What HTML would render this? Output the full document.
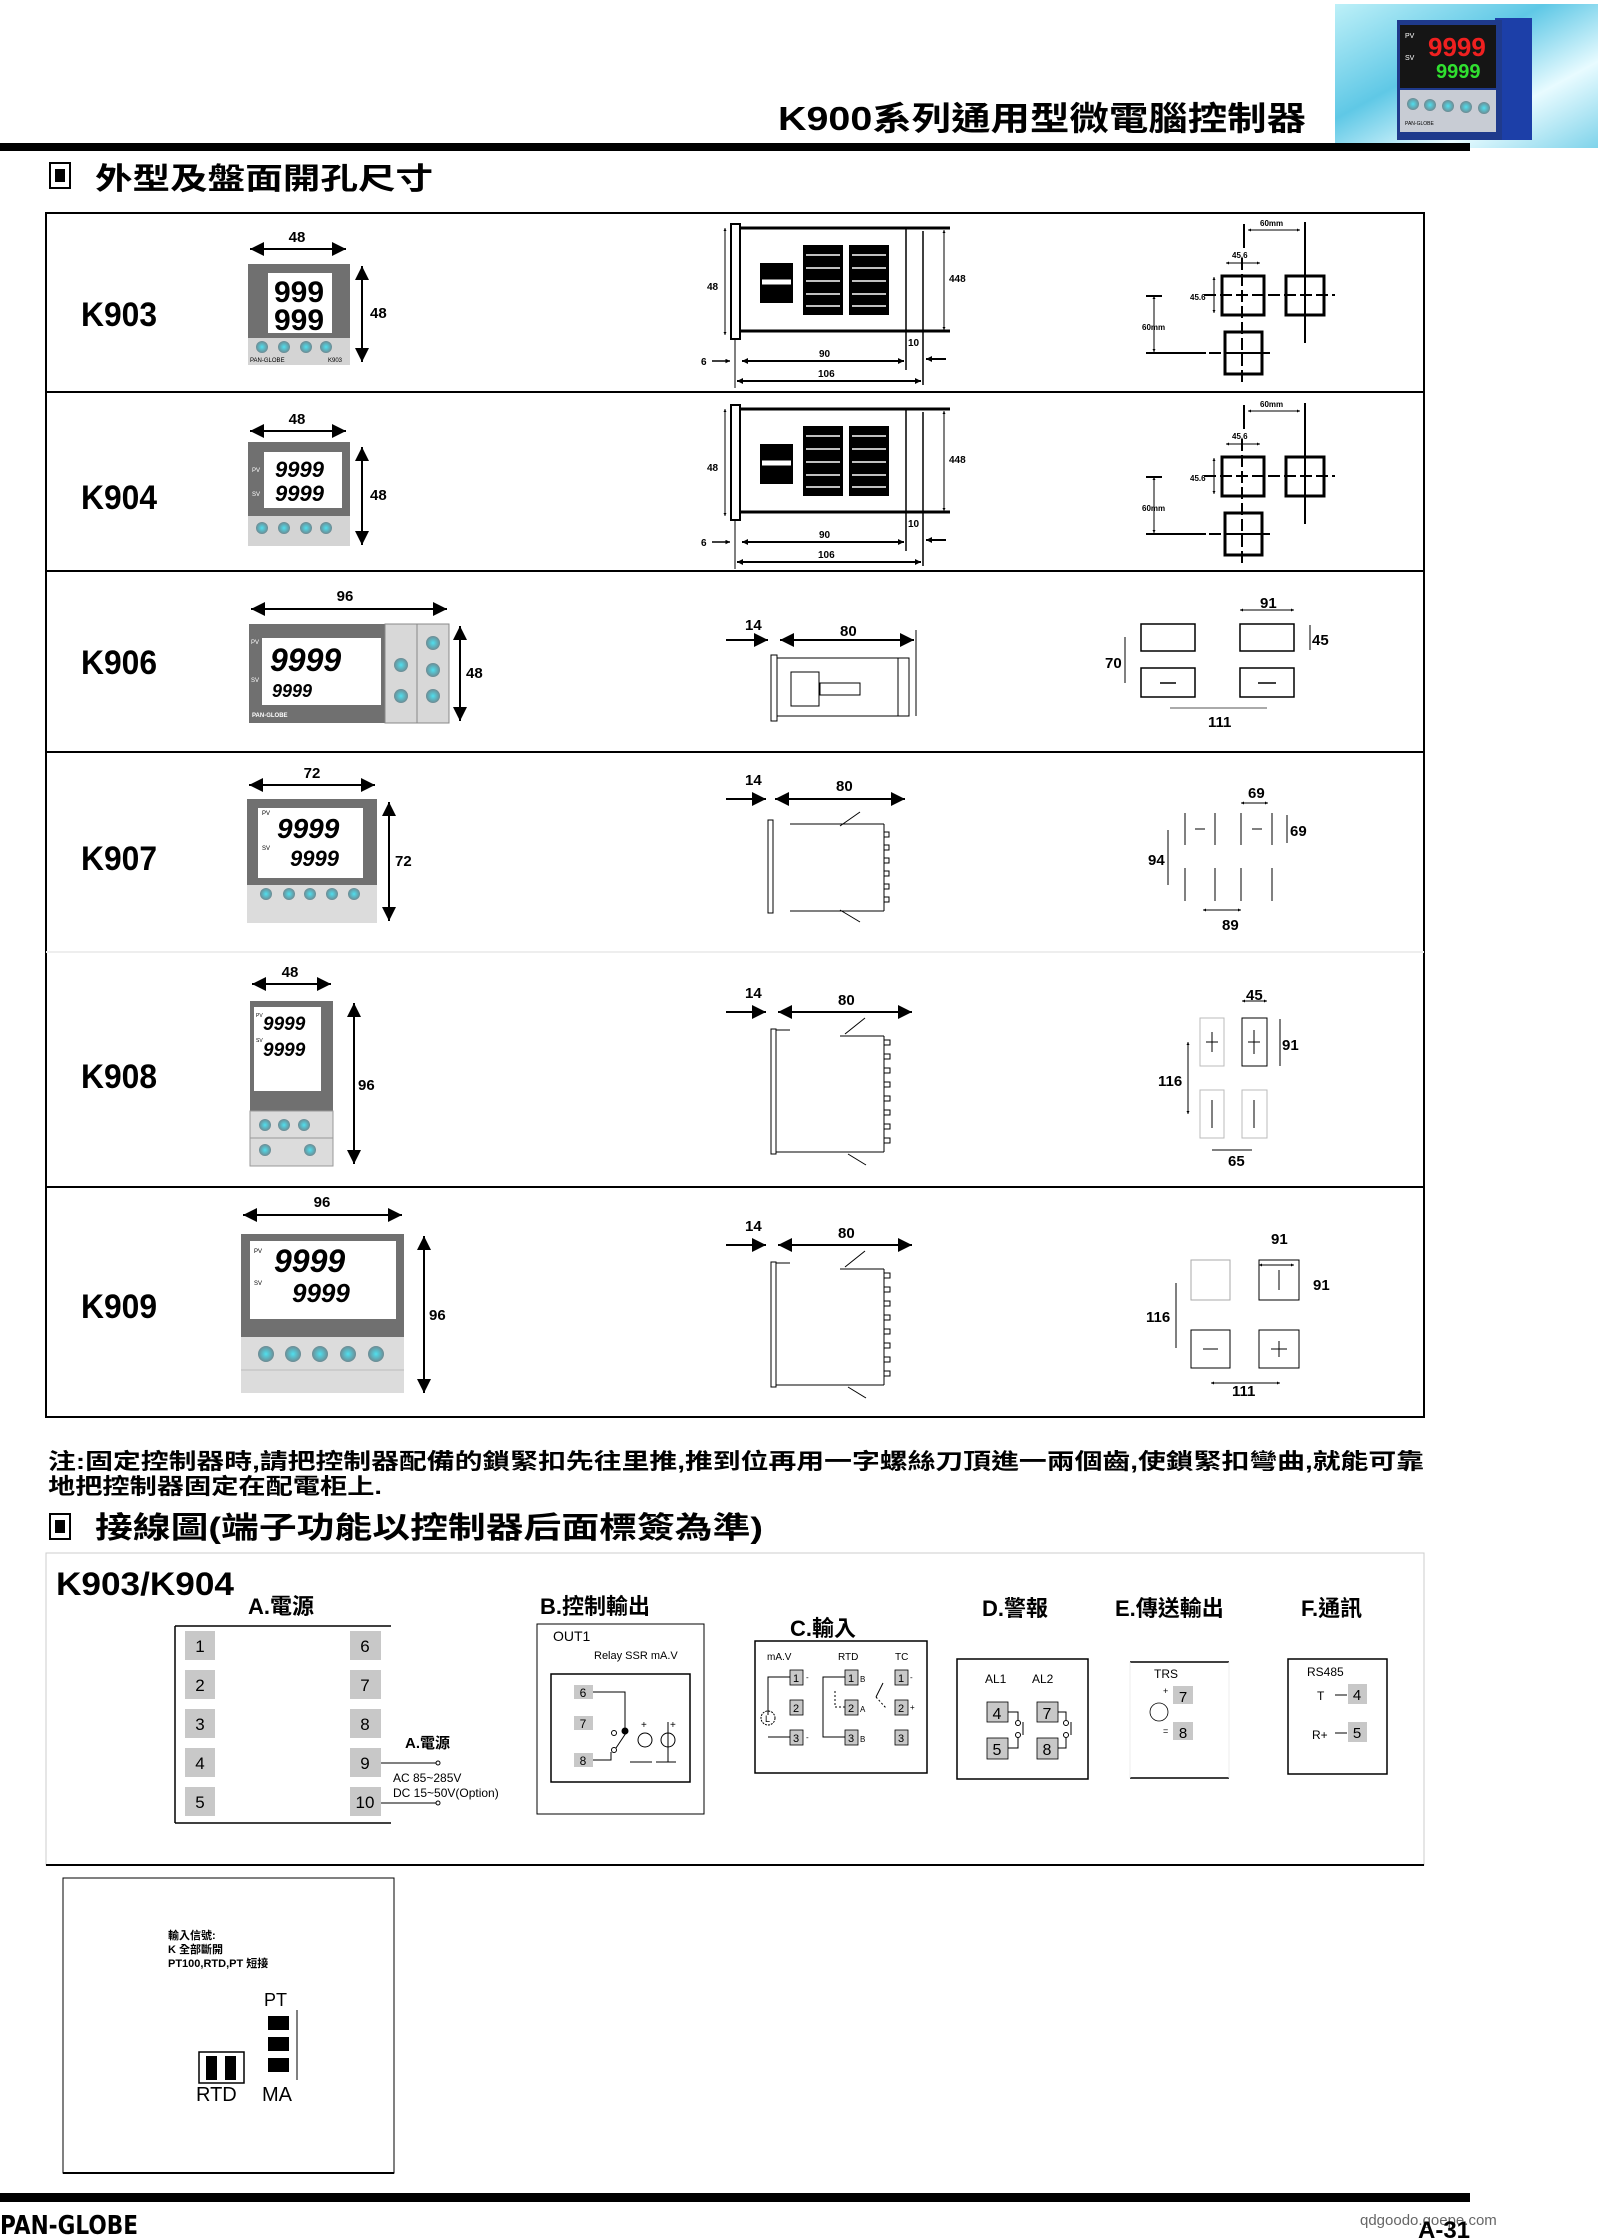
<!DOCTYPE html>
<html><head><meta charset="utf-8"><style>
html,body{margin:0;padding:0;background:#fff;}
svg{display:block;}
text{font-family:"Liberation Sans","Noto Sans CJK TC",sans-serif;}
.cj{font-family:"Liberation Sans","Noto Sans CJK TC",sans-serif;font-weight:bold;}
.d{font-family:"Liberation Sans Narrow","Liberation Sans",sans-serif;font-weight:bold;}
</style></head><body>
<svg width="1600" height="2238" viewBox="0 0 1600 2238" xmlns="http://www.w3.org/2000/svg">
<defs>
<marker id="ah" viewBox="0 0 10 10" refX="10" refY="5" markerWidth="7" markerHeight="7" orient="auto-start-reverse"><path d="M0,0L10,5L0,10z" fill="#000"/></marker>
<marker id="as" viewBox="0 0 10 10" refX="10" refY="5" markerWidth="3" markerHeight="3" orient="auto-start-reverse"><path d="M0,0L10,5L0,10z" fill="#000"/></marker>
<linearGradient id="bg1" x1="0" y1="0" x2="1" y2="1"><stop offset="0" stop-color="#bdf0f8"/><stop offset="0.4" stop-color="#5fc8e6"/><stop offset="0.7" stop-color="#e8fbff"/><stop offset="1" stop-color="#7fd3ea"/></linearGradient>
<radialGradient id="btn"><stop offset="0" stop-color="#4fe0ef"/><stop offset="1" stop-color="#6d8a92"/></radialGradient>
</defs>

<!-- header -->
<rect x="1335" y="4" width="263" height="144" fill="url(#bg1)"/>
<rect x="1495" y="18" width="37" height="122" fill="#1c3fa8"/>
<rect x="1397" y="20" width="105" height="120" fill="#1f3a8c"/>
<rect x="1400" y="25" width="96" height="63" fill="#151515"/>
<text x="1405" y="38" font-size="7" fill="#fff">PV</text>
<text x="1405" y="60" font-size="7" fill="#fff">SV</text>
<text x="1428" y="56" font-size="26" fill="#f02020" class="d">9999</text>
<text x="1436" y="78" font-size="20" fill="#30e030" class="d">9999</text>
<rect x="1400" y="90" width="96" height="42" fill="#c8ccd4"/>
<g fill="url(#btn)"><circle cx="1413" cy="104" r="6"/><circle cx="1430" cy="105" r="6"/><circle cx="1448" cy="106" r="6"/><circle cx="1466" cy="107" r="6"/><circle cx="1484" cy="108" r="6"/></g>
<text x="1405" y="125" font-size="5">PAN-GLOBE</text>
<text x="778" y="130" font-size="33" class="cj" textLength="528" lengthAdjust="spacingAndGlyphs">K900系列通用型微電腦控制器</text>
<rect x="0" y="143" width="1470" height="8" fill="#000"/>

<!-- section 1 -->
<rect x="50" y="163" width="20" height="25" fill="#fff" stroke="#000" stroke-width="2"/>
<rect x="55" y="169" width="10" height="13" fill="#000"/>
<text x="95" y="189" font-size="30" class="cj" textLength="338" lengthAdjust="spacingAndGlyphs">外型及盤面開孔尺寸</text>

<rect x="46" y="213" width="1378" height="1204" fill="none" stroke="#000" stroke-width="2"/>
<g stroke="#000" stroke-width="2"><line x1="46" y1="392" x2="1424" y2="392"/><line x1="46" y1="571" x2="1424" y2="571"/><line x1="46" y1="752" x2="1424" y2="752"/><line x1="46" y1="1187" x2="1424" y2="1187"/></g>
<line x1="46" y1="952" x2="1424" y2="952" stroke="#eee" stroke-width="2"/>

<g class="d" font-size="34">
<text x="81" y="326" textLength="76" lengthAdjust="spacingAndGlyphs">K903</text>
<text x="81" y="509" textLength="76" lengthAdjust="spacingAndGlyphs">K904</text>
<text x="81" y="674" textLength="76" lengthAdjust="spacingAndGlyphs">K906</text>
<text x="81" y="870" textLength="76" lengthAdjust="spacingAndGlyphs">K907</text>
<text x="81" y="1088" textLength="76" lengthAdjust="spacingAndGlyphs">K908</text>
<text x="81" y="1318" textLength="76" lengthAdjust="spacingAndGlyphs">K909</text>
</g>

<!-- K903 front -->
<rect x="248" y="264" width="102" height="74" fill="#707070"/>
<rect x="268" y="273" width="64" height="60" fill="#fff"/>
<text x="274" y="302" font-size="30" class="d">999</text>
<text x="274" y="330" font-size="30" class="d">999</text>
<rect x="248" y="338" width="102" height="27" fill="#d4d4d4"/>
<g fill="url(#btn)"><circle cx="262" cy="347" r="6"/><circle cx="284" cy="347" r="6"/><circle cx="306" cy="347" r="6"/><circle cx="326" cy="347" r="6"/></g>
<text x="250" y="362" font-size="6">PAN-GLOBE</text><text x="328" y="362" font-size="6">K903</text>
<line x1="250" y1="249" x2="346" y2="249" stroke="#000" stroke-width="2" marker-start="url(#ah)" marker-end="url(#ah)"/>
<text x="297" y="242" font-size="15" class="d" text-anchor="middle">48</text>
<line x1="362" y1="266" x2="362" y2="362" stroke="#000" stroke-width="2" marker-start="url(#ah)" marker-end="url(#ah)"/>
<text x="370" y="318" font-size="15" class="d">48</text>

<!-- K904 front -->
<rect x="248" y="442" width="102" height="74" fill="#707070"/>
<rect x="264" y="452" width="78" height="56" fill="#fff"/>
<text x="252" y="472" font-size="6" fill="#fff">PV</text><text x="252" y="496" font-size="6" fill="#fff">SV</text>
<text x="275" y="477" font-size="22" class="d" font-style="italic">9999</text>
<text x="275" y="501" font-size="22" class="d" font-style="italic">9999</text>
<rect x="248" y="516" width="102" height="30" fill="#d4d4d4"/>
<g fill="url(#btn)"><circle cx="262" cy="528" r="6"/><circle cx="284" cy="528" r="6"/><circle cx="306" cy="528" r="6"/><circle cx="326" cy="528" r="6"/></g>
<line x1="250" y1="431" x2="346" y2="431" stroke="#000" stroke-width="2" marker-start="url(#ah)" marker-end="url(#ah)"/>
<text x="297" y="424" font-size="15" class="d" text-anchor="middle">48</text>
<line x1="362" y1="447" x2="362" y2="545" stroke="#000" stroke-width="2" marker-start="url(#ah)" marker-end="url(#ah)"/>
<text x="370" y="500" font-size="15" class="d">48</text>

<!-- K903/K904 side view group -->
<g id="side1" stroke="#000" fill="none">
<rect x="731" y="224" width="9" height="115" fill="#fff" stroke-width="2"/>
<line x1="740" y1="228" x2="950" y2="228" stroke-width="3"/>
<line x1="740" y1="331" x2="950" y2="331" stroke-width="3"/>
<line x1="906" y1="228" x2="906" y2="370" stroke-width="1.5"/>
<line x1="923" y1="231" x2="923" y2="385" stroke-width="1.5"/>
<line x1="725" y1="228" x2="725" y2="335" stroke-width="1" marker-start="url(#as)" marker-end="url(#as)"/>
<line x1="944" y1="230" x2="944" y2="330" stroke-width="1" marker-start="url(#as)" marker-end="url(#as)"/>
<g fill="#000" stroke="none">
<rect x="760" y="263" width="33" height="40"/>
<rect x="803" y="245" width="40" height="70"/>
<rect x="849" y="245" width="40" height="70"/>
</g>
<g stroke="#fff" stroke-width="1.5">
<line x1="762" y1="282" x2="791" y2="282" stroke-width="5"/>
<line x1="806" y1="255" x2="840" y2="255"/><line x1="806" y1="268" x2="840" y2="268"/><line x1="806" y1="281" x2="840" y2="281"/><line x1="806" y1="294" x2="840" y2="294"/><line x1="806" y1="306" x2="840" y2="306"/>
<line x1="852" y1="255" x2="886" y2="255"/><line x1="852" y1="268" x2="886" y2="268"/><line x1="852" y1="281" x2="886" y2="281"/><line x1="852" y1="294" x2="886" y2="294"/><line x1="852" y1="306" x2="886" y2="306"/>
</g>
<line x1="735" y1="340" x2="735" y2="388" stroke-width="1"/>
<line x1="742" y1="361" x2="904" y2="361" stroke-width="2" marker-start="url(#as)" marker-end="url(#as)"/>
<line x1="737" y1="381" x2="921" y2="381" stroke-width="2" marker-start="url(#as)" marker-end="url(#as)"/>
<line x1="712" y1="361" x2="730" y2="361" stroke-width="1.5" marker-end="url(#as)"/>
<line x1="946" y1="359" x2="926" y2="359" stroke-width="2" marker-end="url(#as)"/>
<g stroke="none" fill="#000" font-size="10" font-weight="bold">
<text x="707" y="290">48</text><text x="949" y="282">448</text><text x="908" y="346">10</text>
<text x="819" y="357">90</text><text x="818" y="377">106</text><text x="701" y="365">6</text>
</g>
</g>
<use href="#side1" transform="translate(0,181)"/>

<!-- K903 cutout -->
<g id="cut1" stroke="#000" fill="none">
<rect x="1222" y="276" width="42" height="39" stroke-width="3"/>
<rect x="1286" y="276" width="38" height="39" stroke-width="3"/>
<rect x="1225" y="332" width="37" height="42" stroke-width="3"/>
<line x1="1204" y1="295" x2="1335" y2="295" stroke-width="2" stroke-dasharray="12,4"/>
<line x1="1242" y1="258" x2="1242" y2="386" stroke-width="2" stroke-dasharray="12,4"/>
<line x1="1305" y1="222" x2="1305" y2="343" stroke-width="2"/>
<line x1="1244" y1="224" x2="1244" y2="248" stroke-width="2"/>
<line x1="1146" y1="353" x2="1270" y2="353" stroke-width="2" stroke-dasharray="60,3,12,4"/>
<line x1="1154" y1="296" x2="1154" y2="352" stroke-width="1" marker-start="url(#as)" marker-end="url(#as)"/>
<line x1="1146" y1="296" x2="1162" y2="296" stroke-width="2"/>
<line x1="1248" y1="230" x2="1300" y2="230" stroke-width="1" marker-start="url(#as)" marker-end="url(#as)"/>
<line x1="1226" y1="263" x2="1260" y2="263" stroke-width="1" marker-start="url(#as)" marker-end="url(#as)"/>
<line x1="1214" y1="277" x2="1214" y2="313" stroke-width="1" marker-start="url(#as)" marker-end="url(#as)"/>
<g stroke="none" fill="#000" font-size="8" font-weight="bold">
<text x="1260" y="226">60mm</text><text x="1232" y="258">45.6</text><text x="1190" y="300">45.6</text><text x="1142" y="330">60mm</text>
</g>
</g>
<use href="#cut1" transform="translate(0,181)"/>

<!-- K906 -->
<rect x="249" y="624" width="136" height="99" fill="#707070"/>
<rect x="262" y="638" width="119" height="67" fill="#fff"/>
<text x="251" y="644" font-size="6" fill="#fff">PV</text><text x="251" y="682" font-size="6" fill="#fff">SV</text>
<text x="270" y="671" font-size="32" class="d" font-style="italic">9999</text>
<text x="272" y="697" font-size="18" class="d" font-style="italic">9999</text>
<text x="252" y="717" font-size="6" fill="#fff" font-weight="bold">PAN-GLOBE</text>
<rect x="385" y="624" width="64" height="99" fill="#d8d8d8" stroke="#888"/>
<line x1="417" y1="624" x2="417" y2="723" stroke="#888"/>
<g fill="url(#btn)"><circle cx="401" cy="665" r="7"/><circle cx="401" cy="696" r="7"/><circle cx="433" cy="643" r="7"/><circle cx="433" cy="670" r="7"/><circle cx="433" cy="696" r="7"/></g>
<line x1="251" y1="609" x2="447" y2="609" stroke="#000" stroke-width="2" marker-start="url(#ah)" marker-end="url(#ah)"/>
<text x="345" y="601" font-size="15" class="d" text-anchor="middle">96</text>
<line x1="460" y1="626" x2="460" y2="721" stroke="#000" stroke-width="2" marker-start="url(#ah)" marker-end="url(#ah)"/>
<text x="466" y="678" font-size="15" class="d">48</text>
<g stroke="#000" fill="none">
<rect x="771" y="655" width="6" height="66"/>
<rect x="777" y="658" width="132" height="58"/>
<rect x="898" y="658" width="11" height="58"/>
<rect x="791" y="672" width="28" height="34"/>
<rect x="820" y="683" width="40" height="12"/>
<line x1="726" y1="640" x2="768" y2="640" stroke-width="2" marker-end="url(#ah)"/>
<line x1="780" y1="640" x2="914" y2="640" stroke-width="2" marker-start="url(#ah)" marker-end="url(#ah)"/>
<line x1="916" y1="630" x2="916" y2="716"/>
</g>
<text x="745" y="630" font-size="15" class="d">14</text><text x="840" y="636" font-size="15" class="d">80</text>
<g stroke="#000" fill="none" stroke-width="1.5">
<rect x="1141" y="624" width="54" height="27"/><rect x="1240" y="624" width="54" height="27"/>
<rect x="1141" y="668" width="54" height="29"/><rect x="1240" y="668" width="54" height="29"/>
<line x1="1160" y1="683" x2="1176" y2="683"/><line x1="1258" y1="683" x2="1276" y2="683"/>
<line x1="1240" y1="610" x2="1294" y2="610" stroke-width="1" marker-start="url(#as)" marker-end="url(#as)"/>
<line x1="1310" y1="625" x2="1310" y2="650" stroke-width="1"/>
<line x1="1125" y1="637" x2="1125" y2="683" stroke-width="1"/>
<line x1="1170" y1="708" x2="1267" y2="708" stroke-width="1" stroke="#555"/>
</g>
<g class="d" font-size="15"><text x="1260" y="608">91</text><text x="1312" y="645">45</text><text x="1105" y="668">70</text><text x="1208" y="727">111</text></g>

<!-- K907 -->
<rect x="247" y="799" width="130" height="86" fill="#707070"/>
<rect x="258" y="808" width="105" height="70" fill="#fff"/>
<text x="262" y="815" font-size="6">PV</text><text x="262" y="850" font-size="6">SV</text>
<text x="277" y="838" font-size="28" class="d" font-style="italic">9999</text>
<text x="290" y="866" font-size="22" class="d" font-style="italic">9999</text>
<rect x="247" y="885" width="130" height="38" fill="#dcdcdc"/>
<g fill="url(#btn)"><circle cx="266" cy="894" r="6"/><circle cx="289" cy="894" r="6"/><circle cx="310" cy="894" r="6"/><circle cx="332" cy="894" r="6"/><circle cx="354" cy="894" r="6"/></g>
<line x1="249" y1="785" x2="375" y2="785" stroke="#000" stroke-width="2" marker-start="url(#ah)" marker-end="url(#ah)"/>
<text x="312" y="778" font-size="15" class="d" text-anchor="middle">72</text>
<line x1="389" y1="802" x2="389" y2="921" stroke="#000" stroke-width="2" marker-start="url(#ah)" marker-end="url(#ah)"/>
<text x="395" y="866" font-size="15" class="d">72</text>
<g stroke="#000" fill="none">
<rect x="768" y="820" width="5" height="93"/>
<line x1="790" y1="824" x2="884" y2="824"/><line x1="790" y1="911" x2="884" y2="911"/>
<line x1="884" y1="824" x2="884" y2="911"/>
<path d="M884,832 h5 v5 h-5 M884,845 h5 v5 h-5 M884,858 h5 v5 h-5 M884,871 h5 v5 h-5 M884,884 h5 v5 h-5 M884,897 h5 v5 h-5"/>
<line x1="840" y1="826" x2="860" y2="812"/><line x1="840" y1="910" x2="860" y2="922"/>
<line x1="726" y1="799" x2="766" y2="799" stroke-width="2" marker-end="url(#ah)"/>
<line x1="775" y1="799" x2="905" y2="799" stroke-width="2" marker-start="url(#ah)" marker-end="url(#ah)"/>
</g>
<text x="745" y="785" font-size="15" class="d">14</text><text x="836" y="791" font-size="15" class="d">80</text>
<g stroke="#000" fill="none" stroke-width="1">
<line x1="1185" y1="813" x2="1185" y2="845"/><line x1="1241" y1="813" x2="1241" y2="845"/>
<line x1="1215" y1="813" x2="1215" y2="845"/><line x1="1272" y1="813" x2="1272" y2="845"/>
<line x1="1185" y1="868" x2="1185" y2="901"/><line x1="1241" y1="868" x2="1241" y2="901"/>
<line x1="1215" y1="868" x2="1215" y2="901"/><line x1="1272" y1="868" x2="1272" y2="901"/>
<line x1="1195" y1="829" x2="1205" y2="829"/><line x1="1252" y1="829" x2="1262" y2="829"/>
<line x1="1168" y1="830" x2="1168" y2="885"/>
<line x1="1241" y1="803" x2="1268" y2="803" marker-start="url(#as)" marker-end="url(#as)"/>
<line x1="1287" y1="815" x2="1287" y2="843"/>
<line x1="1203" y1="910" x2="1241" y2="910" marker-start="url(#as)" marker-end="url(#as)"/>
</g>
<g class="d" font-size="15"><text x="1248" y="798">69</text><text x="1290" y="836">69</text><text x="1148" y="865">94</text><text x="1222" y="930">89</text></g>

<!-- K908 -->
<rect x="250" y="1001" width="83" height="110" fill="#707070"/>
<rect x="254" y="1007" width="67" height="84" fill="#fff"/>
<text x="256" y="1017" font-size="5">PV</text><text x="256" y="1042" font-size="5">SV</text>
<text x="263" y="1030" font-size="19" class="d" font-style="italic">9999</text>
<text x="263" y="1056" font-size="19" class="d" font-style="italic">9999</text>
<rect x="250" y="1111" width="83" height="55" fill="#dcdcdc" stroke="#999"/>
<line x1="250" y1="1138" x2="333" y2="1138" stroke="#999"/>
<g fill="url(#btn)"><circle cx="265" cy="1125" r="6"/><circle cx="284" cy="1125" r="6"/><circle cx="304" cy="1125" r="6"/><circle cx="265" cy="1150" r="6"/><circle cx="310" cy="1150" r="6"/></g>
<line x1="252" y1="984" x2="331" y2="984" stroke="#000" stroke-width="2" marker-start="url(#ah)" marker-end="url(#ah)"/>
<text x="290" y="977" font-size="15" class="d" text-anchor="middle">48</text>
<line x1="354" y1="1003" x2="354" y2="1164" stroke="#000" stroke-width="2" marker-start="url(#ah)" marker-end="url(#ah)"/>
<text x="358" y="1090" font-size="15" class="d">96</text>
<g id="side3" stroke="#000" fill="none">
<rect x="771" y="1029" width="5" height="125"/>
<line x1="776" y1="1030" x2="790" y2="1030"/><line x1="776" y1="1152" x2="884" y2="1152"/>
<line x1="840" y1="1036" x2="884" y2="1036"/>
<line x1="884" y1="1036" x2="884" y2="1152"/>
<path d="M884,1040 h6 v5 h-6 M884,1054 h6 v5 h-6 M884,1068 h6 v5 h-6 M884,1082 h6 v5 h-6 M884,1096 h6 v5 h-6 M884,1110 h6 v5 h-6 M884,1124 h6 v5 h-6 M884,1138 h6 v5 h-6"/>
<line x1="845" y1="1034" x2="865" y2="1018"/><line x1="848" y1="1154" x2="866" y2="1165"/>
<line x1="726" y1="1012" x2="766" y2="1012" stroke-width="2" marker-end="url(#ah)"/>
<line x1="778" y1="1012" x2="912" y2="1012" stroke-width="2" marker-start="url(#ah)" marker-end="url(#ah)"/>
</g>
<text x="745" y="998" font-size="15" class="d">14</text><text x="838" y="1005" font-size="15" class="d">80</text>
<use href="#side3" transform="translate(0,233)"/>
<text x="745" y="1231" font-size="15" class="d">14</text><text x="838" y="1238" font-size="15" class="d">80</text>
<g stroke="#000" fill="none" stroke-width="1">
<rect x="1200" y="1018" width="24" height="48" stroke="#bbb"/><rect x="1242" y="1018" width="25" height="48"/>
<rect x="1200" y="1090" width="24" height="48" stroke="#bbb"/><rect x="1242" y="1090" width="25" height="48" stroke="#bbb"/>
<line x1="1212" y1="1032" x2="1212" y2="1052"/><line x1="1206" y1="1042" x2="1218" y2="1042"/>
<line x1="1254" y1="1030" x2="1254" y2="1054"/><line x1="1248" y1="1042" x2="1260" y2="1042"/>
<line x1="1212" y1="1100" x2="1212" y2="1128"/><line x1="1254" y1="1100" x2="1254" y2="1128"/>
<line x1="1188" y1="1042" x2="1188" y2="1114" marker-start="url(#as)" marker-end="url(#as)"/>
<line x1="1242" y1="1001" x2="1267" y2="1001" marker-start="url(#as)" marker-end="url(#as)"/>
<line x1="1280" y1="1019" x2="1280" y2="1066"/>
<line x1="1212" y1="1150" x2="1252" y2="1150"/>
</g>
<g class="d" font-size="15"><text x="1246" y="1000">45</text><text x="1282" y="1050">91</text><text x="1158" y="1086">116</text><text x="1228" y="1166">65</text></g>

<!-- K909 -->
<rect x="241" y="1234" width="163" height="103" fill="#707070"/>
<rect x="250" y="1241" width="146" height="78" fill="#fff"/>
<text x="254" y="1253" font-size="6">PV</text><text x="254" y="1285" font-size="6">SV</text>
<text x="274" y="1272" font-size="32" class="d" font-style="italic">9999</text>
<text x="292" y="1302" font-size="26" class="d" font-style="italic">9999</text>
<rect x="241" y="1337" width="163" height="56" fill="#dcdcdc"/>
<line x1="241" y1="1370" x2="404" y2="1370" stroke="#bbb"/>
<g fill="url(#btn)"><circle cx="266" cy="1354" r="8"/><circle cx="293" cy="1354" r="8"/><circle cx="320" cy="1354" r="8"/><circle cx="348" cy="1354" r="8"/><circle cx="376" cy="1354" r="8"/></g>
<line x1="243" y1="1215" x2="402" y2="1215" stroke="#000" stroke-width="2" marker-start="url(#ah)" marker-end="url(#ah)"/>
<text x="322" y="1207" font-size="15" class="d" text-anchor="middle">96</text>
<line x1="424" y1="1236" x2="424" y2="1393" stroke="#000" stroke-width="2" marker-start="url(#ah)" marker-end="url(#ah)"/>
<text x="429" y="1320" font-size="15" class="d">96</text>
<g stroke="#000" fill="none" stroke-width="1">
<rect x="1191" y="1260" width="39" height="40" stroke="#aaa"/><rect x="1259" y="1260" width="40" height="40"/>
<rect x="1191" y="1330" width="39" height="38"/><rect x="1259" y="1330" width="40" height="38"/>
<line x1="1279" y1="1270" x2="1279" y2="1290"/>
<line x1="1203" y1="1349" x2="1218" y2="1349"/><line x1="1271" y1="1349" x2="1287" y2="1349"/><line x1="1279" y1="1341" x2="1279" y2="1357"/>
<line x1="1176" y1="1283" x2="1176" y2="1348"/>
<line x1="1259" y1="1265" x2="1294" y2="1265" marker-start="url(#as)" marker-end="url(#as)"/>
<line x1="1211" y1="1383" x2="1280" y2="1383" marker-start="url(#as)" marker-end="url(#as)"/>
</g>
<g class="d" font-size="15"><text x="1271" y="1244">91</text><text x="1313" y="1290">91</text><text x="1146" y="1322">116</text><text x="1232" y="1396">111</text></g>

<!-- note -->
<text x="48" y="1469" font-size="22" class="cj" textLength="1376" lengthAdjust="spacingAndGlyphs">注:固定控制器時,請把控制器配備的鎖緊扣先往里推,推到位再用一字螺絲刀頂進一兩個齒,使鎖緊扣彎曲,就能可靠</text>
<text x="48" y="1494" font-size="22" class="cj" textLength="334" lengthAdjust="spacingAndGlyphs">地把控制器固定在配電柜上.</text>

<rect x="50" y="1514" width="20" height="25" fill="#fff" stroke="#000" stroke-width="2"/>
<rect x="55" y="1520" width="10" height="13" fill="#000"/>
<text x="95" y="1538" font-size="30" class="cj" textLength="668" lengthAdjust="spacingAndGlyphs">接線圖(端子功能以控制器后面標簽為準)</text>

<!-- wiring box -->
<rect x="46" y="1553" width="1378" height="312" fill="none" stroke="#ccc" stroke-width="1"/>
<line x1="46" y1="1865" x2="1424" y2="1865" stroke="#000" stroke-width="2"/>
<text x="56" y="1595" font-size="32" class="d" textLength="178" lengthAdjust="spacingAndGlyphs">K903/K904</text>
<g class="cj" font-size="22">
<text x="248" y="1614">A.電源</text>
<text x="540" y="1614">B.控制輸出</text>
<text x="790" y="1636">C.輸入</text>
<text x="982" y="1616">D.警報</text>
<text x="1115" y="1616">E.傳送輸出</text>
<text x="1301" y="1616">F.通訊</text>
</g>
<!-- A -->
<line x1="175" y1="1626" x2="391" y2="1626" stroke="#000" stroke-width="1.5"/>
<line x1="175" y1="1626" x2="175" y2="1823" stroke="#000" stroke-width="1.5"/>
<line x1="175" y1="1823" x2="391" y2="1823" stroke="#000" stroke-width="1.5"/>
<g fill="#c8c8c8">
<rect x="185" y="1631" width="30" height="29"/><rect x="185" y="1670" width="30" height="29"/><rect x="185" y="1709" width="30" height="29"/><rect x="185" y="1748" width="30" height="29"/><rect x="185" y="1787" width="30" height="29"/>
<rect x="350" y="1631" width="31" height="29"/><rect x="350" y="1670" width="31" height="29"/><rect x="350" y="1709" width="31" height="29"/><rect x="350" y="1748" width="31" height="29"/><rect x="350" y="1787" width="31" height="29"/>
</g>
<g font-size="17" text-anchor="middle">
<text x="200" y="1652">1</text><text x="200" y="1691">2</text><text x="200" y="1730">3</text><text x="200" y="1769">4</text><text x="200" y="1808">5</text>
<text x="365" y="1652">6</text><text x="365" y="1691">7</text><text x="365" y="1730">8</text><text x="365" y="1769">9</text><text x="365" y="1808">10</text>
</g>
<line x1="381" y1="1763" x2="436" y2="1763" stroke="#000"/><circle cx="438" cy="1763" r="2" fill="#fff" stroke="#000"/>
<line x1="381" y1="1803" x2="436" y2="1803" stroke="#000"/><circle cx="438" cy="1803" r="2" fill="#fff" stroke="#000"/>
<text x="405" y="1748" font-size="15" class="cj">A.電源</text>
<text x="393" y="1782" font-size="12">AC 85~285V</text>
<text x="393" y="1797" font-size="12">DC 15~50V(Option)</text>
<!-- B -->
<rect x="537" y="1624" width="167" height="190" fill="none" stroke="#000" stroke-width="1"/>
<text x="553" y="1641" font-size="14">OUT1</text>
<text x="594" y="1659" font-size="11">Relay SSR mA.V</text>
<rect x="551" y="1674" width="139" height="108" fill="none" stroke="#000" stroke-width="1.5"/>
<g fill="#c8c8c8"><rect x="574" y="1685" width="19" height="14"/><rect x="574" y="1716" width="19" height="14"/><rect x="574" y="1753" width="19" height="14"/></g>
<g font-size="12" text-anchor="middle"><text x="583" y="1697">6</text><text x="583" y="1728">7</text><text x="583" y="1765">8</text></g>
<g stroke="#000" fill="none" stroke-width="1">
<path d="M593,1692 H625 V1731"/><circle cx="625" cy="1731" r="3" fill="#000"/>
<circle cx="614" cy="1733" r="2.5"/><circle cx="614" cy="1750" r="2.5"/>
<line x1="616" y1="1748" x2="626" y2="1733"/>
<path d="M593,1760 H611 V1752"/>
<circle cx="645" cy="1740" r="7"/><circle cx="668" cy="1740" r="7"/>
<line x1="668" y1="1722" x2="668" y2="1762"/>
<line x1="630" y1="1762" x2="652" y2="1762"/><line x1="656" y1="1762" x2="676" y2="1762"/>
</g>
<text x="641" y="1728" font-size="10">+</text><text x="670" y="1728" font-size="10">+</text>
<!-- C -->
<rect x="755" y="1641" width="172" height="132" fill="none" stroke="#000" stroke-width="1.5"/>
<g font-size="10"><text x="767" y="1660">mA.V</text><text x="838" y="1660">RTD</text><text x="895" y="1660">TC</text></g>
<g fill="#c8c8c8" stroke="#000" stroke-width="0.8">
<rect x="790" y="1670" width="13" height="15"/><rect x="790" y="1700" width="13" height="15"/><rect x="790" y="1730" width="13" height="15"/>
<rect x="845" y="1670" width="13" height="15"/><rect x="845" y="1700" width="13" height="15"/><rect x="845" y="1730" width="13" height="15"/>
<rect x="895" y="1670" width="13" height="15"/><rect x="895" y="1700" width="13" height="15"/><rect x="895" y="1730" width="13" height="15"/>
</g>
<g font-size="11" text-anchor="middle"><text x="796" y="1682">1</text><text x="796" y="1712">2</text><text x="796" y="1742">3</text><text x="851" y="1682">1</text><text x="851" y="1712">2</text><text x="851" y="1742">3</text><text x="901" y="1682">1</text><text x="901" y="1712">2</text><text x="901" y="1742">3</text></g>
<g font-size="8"><text x="806" y="1680">-</text><text x="806" y="1740">-</text><text x="860" y="1682">B</text><text x="860" y="1712">A</text><text x="860" y="1742">B</text><text x="910" y="1680">-</text><text x="910" y="1710">+</text></g>
<g stroke="#000" fill="none" stroke-width="1">
<path d="M790,1677 H768 V1715"/><circle cx="768" cy="1718" r="7" stroke-dasharray="2,1"/><path d="M790,1737 H768"/>
<path d="M845,1677 H823 V1737 H845"/><path d="M845,1707 H835 V1690" stroke-dasharray="2,2"/>
<line x1="883" y1="1683" x2="876" y2="1697"/><line x1="876" y1="1697" x2="886" y2="1708" stroke-dasharray="2,2"/>
</g>
<text x="765" y="1722" font-size="9">L</text>
<!-- D -->
<rect x="957" y="1659" width="131" height="120" fill="none" stroke="#000" stroke-width="1.5"/>
<g font-size="12"><text x="985" y="1683">AL1</text><text x="1032" y="1683">AL2</text></g>
<g fill="#c8c8c8" stroke="#000" stroke-width="0.8"><rect x="987" y="1702" width="21" height="20"/><rect x="987" y="1738" width="21" height="21"/><rect x="1037" y="1702" width="21" height="20"/><rect x="1037" y="1738" width="21" height="21"/></g>
<g font-size="16" text-anchor="middle"><text x="997" y="1719">4</text><text x="997" y="1755">5</text><text x="1047" y="1719">7</text><text x="1047" y="1755">8</text></g>
<g stroke="#000" fill="none" stroke-width="1"><path d="M1008,1712 H1018 V1720"/><circle cx="1018" cy="1723" r="2.5"/><circle cx="1018" cy="1735" r="2.5"/><line x1="1023" y1="1722" x2="1023" y2="1735"/><path d="M1018,1738 V1748 H1008"/>
<path d="M1058,1712 H1066 V1720"/><circle cx="1066" cy="1723" r="2.5"/><circle cx="1066" cy="1735" r="2.5"/><line x1="1071" y1="1722" x2="1071" y2="1735"/><path d="M1066,1738 V1748 H1058"/></g>
<!-- E -->
<line x1="1130" y1="1662" x2="1229" y2="1662" stroke="#000" stroke-width="1.5"/>
<line x1="1130" y1="1778" x2="1229" y2="1778" stroke="#000" stroke-width="1.5"/>
<line x1="1130" y1="1662" x2="1130" y2="1778" stroke="#eee"/><line x1="1229" y1="1662" x2="1229" y2="1778" stroke="#eee"/>
<text x="1154" y="1678" font-size="12">TRS</text>
<g fill="#c8c8c8"><rect x="1173" y="1686" width="20" height="18"/><rect x="1173" y="1722" width="20" height="18"/></g>
<g font-size="15" text-anchor="middle"><text x="1183" y="1702">7</text><text x="1183" y="1738">8</text></g>
<circle cx="1159" cy="1712" r="9" fill="none" stroke="#000" stroke-width="0.8"/>
<g font-size="9"><text x="1163" y="1694">+</text><text x="1163" y="1734">=</text></g>
<!-- F -->
<rect x="1288" y="1659" width="99" height="115" fill="none" stroke="#000" stroke-width="1.5"/>
<text x="1307" y="1676" font-size="12">RS485</text>
<text x="1317" y="1700" font-size="12">T</text><text x="1312" y="1739" font-size="12">R+</text>
<line x1="1335" y1="1695" x2="1347" y2="1695" stroke="#000"/><line x1="1335" y1="1733" x2="1347" y2="1733" stroke="#000"/>
<g fill="#c8c8c8"><rect x="1348" y="1684" width="19" height="20"/><rect x="1348" y="1722" width="19" height="20"/></g>
<g font-size="15" text-anchor="middle"><text x="1357" y="1700">4</text><text x="1357" y="1738">5</text></g>

<!-- bottom left box -->
<rect x="63" y="1878" width="331" height="295" fill="none" stroke="#000" stroke-width="1"/>
<line x1="63" y1="2173" x2="394" y2="2173" stroke="#000" stroke-width="2"/>
<g font-size="11" class="cj"><text x="168" y="1939">輸入信號:</text><text x="168" y="1953">K 全部斷開</text><text x="168" y="1967">PT100,RTD,PT 短接</text></g>
<text x="264" y="2006" font-size="18">PT</text>
<g fill="#000"><rect x="268" y="2016" width="21" height="14"/><rect x="268" y="2037" width="21" height="14"/><rect x="268" y="2058" width="21" height="14"/></g>
<line x1="297" y1="2010" x2="297" y2="2080" stroke="#000"/>
<rect x="199" y="2052" width="45" height="31" fill="none" stroke="#000" stroke-width="1.5"/>
<rect x="206" y="2056" width="11" height="24" fill="#000"/><rect x="225" y="2056" width="11" height="24" fill="#000"/>
<text x="196" y="2101" font-size="20">RTD</text><text x="262" y="2101" font-size="20">MA</text>

<!-- footer -->
<rect x="0" y="2193" width="1470" height="9" fill="#000"/>
<text x="0" y="2234" font-size="26" textLength="138" lengthAdjust="spacingAndGlyphs" style="font-family:'DejaVu Sans',sans-serif;font-weight:900">PAN-GLOBE</text>
<text x="1360" y="2225" font-size="15" fill="#666" font-family="Liberation Mono">qdgoodo.goepe.com</text>
<text x="1418" y="2238" font-size="24" class="d">A-31</text>
</svg>
</body></html>
